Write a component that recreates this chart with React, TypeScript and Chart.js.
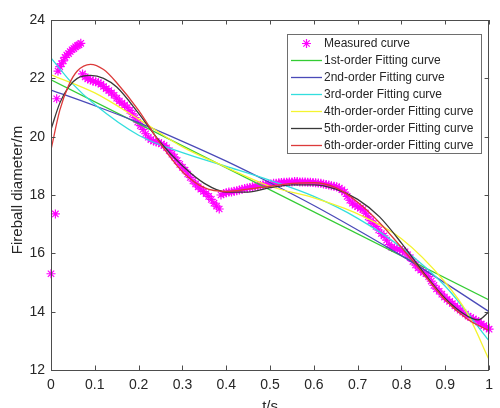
import React, { useEffect, useRef } from "react";
import { Chart, registerables } from "chart.js";

Chart.register(...registerables);

// ---------- data ----------
const xTicks = [0, 0.1, 0.2, 0.3, 0.4, 0.5, 0.6, 0.7, 0.8, 0.9, 1];
const xTickLabels = ["0", "0.1", "0.2", "0.3", "0.4", "0.5", "0.6", "0.7", "0.8", "0.9", "1"];
const yTicks = [12, 14, 16, 18, 20, 22, 24];
const yTickLabels = ["12", "14", "16", "18", "20", "22", "24"];
const xTitle = "t/s";
const yTitle = "Fireball diameter/m";

const seriesNames = [
  "Measured curve",
  "1st-order Fitting curve",
  "2nd-order Fitting curve",
  "3rd-order Fitting curve",
  "4th-order-order Fitting curve",
  "5th-order-order Fitting curve",
  "6th-order-order Fitting curve",
];
const seriesColors = ["#ff00ff", "#33cc33", "#4a4ab8", "#33dede", "#f4f430", "#383838", "#dc3a3a"];

const measT = [
  0.0, 0.01, 0.013, 0.016, 0.02, 0.024, 0.028, 0.032, 0.036, 0.04, 0.044, 0.048, 0.052, 0.056, 0.06, 0.064, 0.068,
  0.072, 0.078, 0.084, 0.09, 0.096, 0.102, 0.108, 0.114, 0.12, 0.126, 0.132, 0.138, 0.144, 0.15, 0.156, 0.162,
  0.168, 0.174, 0.18, 0.186, 0.192, 0.198, 0.204, 0.21, 0.216, 0.222, 0.228, 0.234, 0.24, 0.246, 0.252, 0.258,
  0.264, 0.27, 0.276, 0.282, 0.288, 0.294, 0.3, 0.306, 0.312, 0.318, 0.324, 0.33, 0.336, 0.342, 0.348, 0.354,
  0.36, 0.366, 0.372, 0.378, 0.384,
  0.388, 0.394, 0.4, 0.406, 0.412, 0.418, 0.424, 0.43, 0.436, 0.442, 0.448, 0.454, 0.46, 0.466, 0.472, 0.478,
  0.484, 0.49, 0.496, 0.502, 0.508, 0.514, 0.52, 0.526, 0.532, 0.538, 0.544, 0.55, 0.556, 0.562, 0.568, 0.574,
  0.58, 0.586, 0.592, 0.598, 0.604, 0.61, 0.616, 0.622, 0.628, 0.634, 0.64, 0.646, 0.652, 0.658, 0.664,
  0.67, 0.676, 0.682, 0.688, 0.694, 0.7, 0.706, 0.712, 0.718, 0.724, 0.73, 0.736, 0.742, 0.748, 0.754, 0.76,
  0.766, 0.772, 0.778, 0.784, 0.79, 0.796, 0.802, 0.808, 0.814, 0.82, 0.826, 0.832, 0.838, 0.844, 0.85, 0.856,
  0.862, 0.868, 0.874, 0.88, 0.886, 0.892, 0.898, 0.904, 0.91, 0.916, 0.922, 0.928, 0.934, 0.94, 0.946, 0.952,
  0.958, 0.964, 0.97, 0.976, 0.982, 0.988, 0.994, 1.0,
];
const measY = [
  15.3, 17.35, 21.3, 22.25, 22.4, 22.5, 22.6, 22.72, 22.8, 22.85, 22.92, 22.98, 23.02, 23.08, 23.12, 23.15, 23.2,
  22.15, 22.05, 21.98, 21.95, 21.9, 21.88, 21.85, 21.8, 21.72, 21.65, 21.58, 21.5, 21.42, 21.32, 21.22, 21.15,
  21.08, 21.0, 20.9, 20.78, 20.65, 20.5, 20.38, 20.25, 20.1, 19.98, 19.9, 19.85, 19.82, 19.8, 19.75, 19.7,
  19.62, 19.52, 19.4, 19.3, 19.18, 19.05, 18.95, 18.85, 18.72, 18.6, 18.48, 18.38, 18.28, 18.2, 18.12, 18.05,
  17.95, 17.85, 17.72, 17.62, 17.52,
  18.0, 18.05, 18.08, 18.1, 18.1, 18.13, 18.15, 18.17, 18.2, 18.22, 18.24, 18.26, 18.28, 18.3, 18.32, 18.33,
  18.35, 18.36, 18.37, 18.38, 18.4, 18.4, 18.42, 18.43, 18.44, 18.44, 18.45, 18.45, 18.46, 18.46, 18.45, 18.45,
  18.45, 18.44, 18.44, 18.43, 18.42, 18.41, 18.4, 18.38, 18.36, 18.34, 18.32, 18.3, 18.28, 18.24, 18.18,
  18.1, 17.95, 17.82, 17.72, 17.65, 17.6, 17.55, 17.5, 17.38, 17.25, 17.12, 17.02, 16.92, 16.8, 16.68, 16.6,
  16.45, 16.3, 16.2, 16.18, 16.15, 16.12, 16.1, 16.05, 15.95, 15.85, 15.72, 15.6, 15.5, 15.42, 15.35, 15.3,
  15.2, 15.05, 14.9, 14.78, 14.7, 14.6, 14.5, 14.42, 14.35, 14.28, 14.2, 14.12, 14.05, 13.98, 13.92, 13.85,
  13.8, 13.75, 13.7, 13.65, 13.58, 13.52, 13.47, 13.4,
];

const fitT1 = [0, 1];
const fit1 = [21.95, 14.4];

const fitT2 = [0, 0.1, 0.2, 0.3, 0.4, 0.5, 0.6, 0.7, 0.8, 0.9, 1];
const fit2 = [21.6, 21.06, 20.48, 19.84, 19.16, 18.42, 17.64, 16.8, 15.92, 14.98, 14.0];

const fitT3 = [0, 0.05, 0.1, 0.2, 0.3, 0.4, 0.5, 0.6, 0.7, 0.8, 0.9, 1];
const fit3 = [22.7, 21.8, 21.1, 20.05, 19.45, 18.98, 18.5, 17.95, 17.2, 16.2, 14.87, 13.0];

const fitT4 = [0, 0.1, 0.2, 0.3, 0.4, 0.5, 0.6, 0.7, 0.8, 0.9, 0.95, 1];
const fit4 = [22.12, 21.5, 20.6, 19.65, 18.95, 18.3, 17.9, 17.35, 16.5, 15.0, 13.95, 12.35];

const fitT5 = [0, 0.02, 0.04, 0.06, 0.09, 0.12, 0.15, 0.2, 0.25, 0.3, 0.35, 0.4, 0.45, 0.5, 0.55, 0.6, 0.65, 0.7, 0.75, 0.8, 0.85, 0.9, 0.95, 0.975, 1];
const fit5 = [20.25, 21.15, 21.7, 22.0, 22.1, 22.0, 21.7, 20.8, 19.8, 19.0, 18.4, 18.1, 18.1, 18.25, 18.35, 18.35, 18.2, 17.85, 17.25, 16.35, 15.35, 14.45, 13.85, 13.72, 14.0];

const fitT6 = [0, 0.02, 0.04, 0.06, 0.09, 0.12, 0.15, 0.2, 0.25, 0.3, 0.35, 0.4, 0.45, 0.5, 0.55, 0.6, 0.65, 0.7, 0.75, 0.8, 0.85, 0.9, 0.95, 1];
const fit6 = [19.55, 20.9, 21.75, 22.25, 22.48, 22.3, 21.85, 20.9, 19.75, 18.8, 18.25, 18.12, 18.2, 18.3, 18.4, 18.42, 18.25, 17.75, 17.05, 16.2, 15.3, 14.4, 13.75, 13.35];

const fitTs = [fitT1, fitT2, fitT3, fitT4, fitT5, fitT6];
const fitYs = [fit1, fit2, fit3, fit4, fit5, fit6];

// ---------- helpers ----------
const FONT = "'Liberation Sans', Arial, Helvetica, sans-serif";
const TEXT = "#262626";
const AXIS = "#4d4d4d";

function drawStar(ctx: CanvasRenderingContext2D, x: number, y: number, r: number, color: string) {
  ctx.save();
  ctx.strokeStyle = color;
  ctx.lineWidth = 1.2;
  ctx.beginPath();
  ctx.moveTo(x - r, y);
  ctx.lineTo(x + r, y);
  ctx.moveTo(x, y - r);
  ctx.lineTo(x, y + r);
  const d = r * Math.SQRT1_2;
  ctx.moveTo(x - d, y - d);
  ctx.lineTo(x + d, y + d);
  ctx.moveTo(x - d, y + d);
  ctx.lineTo(x + d, y - d);
  ctx.stroke();
  ctx.restore();
}

const framePlugin = {
  id: "matlabFrame",
  afterDraw(chart: any) {
    const ctx: CanvasRenderingContext2D = chart.ctx;
    const { left, right, top, bottom } = chart.chartArea;
    const xs = chart.scales.x;
    const ys = chart.scales.y;
    ctx.save();
    // box
    ctx.strokeStyle = AXIS;
    ctx.lineWidth = 1;
    ctx.strokeRect(Math.round(left) + 0.5, Math.round(top) + 0.5, Math.round(right - left) - 1, Math.round(bottom - top));
    // inward ticks
    const tl = 4.5;
    ctx.beginPath();
    xTicks.forEach((v) => {
      const px = Math.round(xs.getPixelForValue(v)) + 0.5;
      ctx.moveTo(px, bottom);
      ctx.lineTo(px, bottom - tl);
      ctx.moveTo(px, top);
      ctx.lineTo(px, top + tl);
    });
    yTicks.forEach((v) => {
      const py = Math.round(ys.getPixelForValue(v)) + 0.5;
      ctx.moveTo(left, py);
      ctx.lineTo(left + tl, py);
      ctx.moveTo(right, py);
      ctx.lineTo(right - tl, py);
    });
    ctx.stroke();

    // axis titles
    ctx.fillStyle = TEXT;
    ctx.font = `15px ${FONT}`;
    ctx.textAlign = "center";
    ctx.textBaseline = "top";
    ctx.fillText(xTitle, (left + right) / 2, 399);
    ctx.save();
    ctx.translate(18, 190);
    ctx.rotate(-Math.PI / 2);
    ctx.textBaseline = "middle";
    ctx.fillText(yTitle, 0, 0);
    ctx.restore();

    // legend
    const bx = 287.5, by = 34.5, bw = 194, bh = 119;
    ctx.fillStyle = "#ffffff";
    ctx.fillRect(bx, by, bw, bh);
    ctx.strokeStyle = "#6e6e6e";
    ctx.strokeRect(bx, by, bw, bh);
    ctx.font = `12px ${FONT}`;
    ctx.textAlign = "left";
    ctx.textBaseline = "middle";
    seriesNames.forEach((name, i) => {
      const yy = 43.5 + i * 17;
      if (i === 0) {
        drawStar(ctx, 306.5, yy, 4.5, seriesColors[0]);
      } else {
        ctx.strokeStyle = seriesColors[i];
        ctx.lineWidth = 1.3;
        ctx.beginPath();
        ctx.moveTo(291, yy);
        ctx.lineTo(322, yy);
        ctx.stroke();
      }
      ctx.fillStyle = TEXT;
      ctx.fillText(name, 324, yy + 0.5);
    });
    ctx.restore();
  },
};

export default function App() {
  const canvasRef = useRef<HTMLCanvasElement | null>(null);

  useEffect(() => {
    document.body.style.margin = "0";
    const canvas = canvasRef.current;
    if (!canvas) return;

    const datasets: any[] = [
      {
        label: seriesNames[0],
        data: measT.map((t, i) => ({ x: t, y: measY[i] })),
        showLine: false,
        pointStyle: "star",
        pointRadius: 4.5,
        pointBorderWidth: 1.2,
        borderColor: seriesColors[0],
        backgroundColor: seriesColors[0],
        clip: false,
        order: 7,
      },
    ];
    fitTs.forEach((ts, k) => {
      datasets.push({
        label: seriesNames[k + 1],
        data: ts.map((t, i) => ({ x: t, y: fitYs[k][i] })),
        borderColor: seriesColors[k + 1],
        backgroundColor: seriesColors[k + 1],
        borderWidth: 1.3,
        pointRadius: 0,
        cubicInterpolationMode: "monotone",
        fill: false,
        order: 6 - k,
      });
    });

    const chart = new Chart(canvas, {
      type: "line",
      data: { datasets },
      options: {
        animation: false,
        responsive: false,
        devicePixelRatio: 1,
        layout: { padding: { top: 20, right: 6, left: 0, bottom: 0 } },
        plugins: { legend: { display: false }, tooltip: { enabled: false } },
        scales: {
          x: {
            type: "linear",
            min: 0,
            max: 1,
            grid: { display: false, drawTicks: false },
            border: { display: false },
            afterBuildTicks: (s: any) => {
              s.ticks = xTicks.map((v) => ({ value: v }));
            },
            afterFit: (s: any) => {
              s.height = 38;
            },
            ticks: {
              autoSkip: false,
              maxRotation: 0,
              padding: 7,
              color: TEXT,
              font: { size: 14, family: FONT },
              callback: (_v: any, i: number) => xTickLabels[i],
            },
          },
          y: {
            type: "linear",
            min: 12,
            max: 24,
            grid: { display: false, drawTicks: false },
            border: { display: false },
            afterBuildTicks: (s: any) => {
              s.ticks = yTicks.map((v) => ({ value: v }));
            },
            afterFit: (s: any) => {
              s.width = 51;
            },
            ticks: {
              autoSkip: false,
              padding: 6,
              color: TEXT,
              font: { size: 14, family: FONT },
              callback: (_v: any, i: number) => yTickLabels[i],
            },
          },
        },
      } as any,
      plugins: [framePlugin],
    });
    return () => chart.destroy();
  }, []);

  return (
    <div style={{ width: 500, height: 408, position: "relative", background: "#fff" }}>
      <canvas ref={canvasRef} width={500} height={408} style={{ display: "block" }} />
    </div>
  );
}
